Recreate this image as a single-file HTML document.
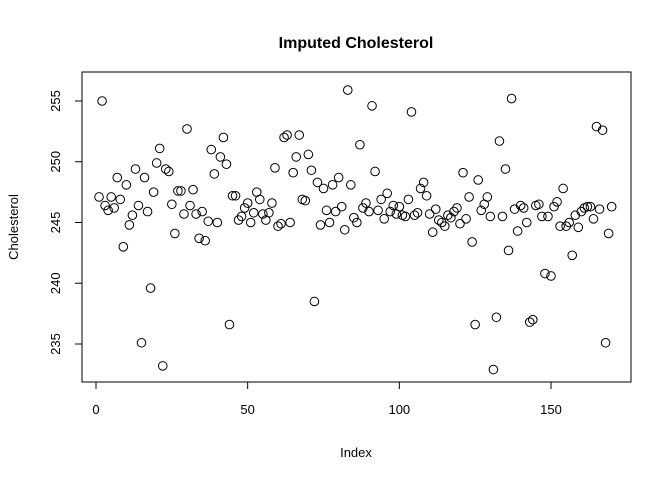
<!DOCTYPE html>
<html><head><meta charset="utf-8"><style>
body{margin:0;background:#fff}
svg text{font-family:"Liberation Sans",Arial,sans-serif}
</style></head><body>
<svg id="chart" width="672" height="480">
<text x="356" y="48" text-anchor="middle" font-size="16" font-weight="bold">Imputed Cholesterol</text>
<rect x="82" y="72" width="549" height="310" fill="none" stroke="#000"/>
<text x="356" y="457" text-anchor="middle" font-size="13">Index</text>
<text transform="translate(18,227) rotate(-90)" text-anchor="middle" font-size="13">Cholesterol</text>
<g id="axes"></g>
<g id="points"></g>
</svg>
<script>
const xTicks=[0,50,100,150];
const yTicks=[235,240,245,250,255];
const values=[247.1,255.0,246.4,246.0,247.1,246.2,248.7,246.9,243.0,248.1,244.8,245.6,249.4,246.4,235.1,248.7,245.9,239.6,247.5,249.9,
251.1,233.2,249.4,249.2,246.5,244.1,247.6,247.6,245.7,252.7,246.4,247.7,245.7,243.7,245.9,243.5,245.1,251.0,249.0,245.0,
250.4,252.0,249.8,236.6,247.2,247.2,245.2,245.5,246.2,246.6,245.0,245.8,247.5,246.9,245.7,245.2,245.8,246.6,249.5,244.7,
244.9,252.0,252.2,245.0,249.1,250.4,252.2,246.9,246.8,250.6,249.3,238.5,248.3,244.8,247.8,246.0,245.0,248.1,245.9,248.7,
246.3,244.4,255.9,248.1,245.4,245.0,251.4,246.2,246.6,245.9,254.6,249.2,246.0,246.9,245.3,247.4,245.9,246.4,245.7,246.3,
245.6,245.5,246.9,254.1,245.6,245.8,247.8,248.3,247.2,245.7,244.2,246.1,245.2,245.0,244.7,245.6,245.4,245.9,246.2,244.9,
249.1,245.3,247.1,243.4,236.6,248.5,246.0,246.5,247.1,245.5,232.9,237.2,251.7,245.5,249.4,242.7,255.2,246.1,244.3,246.4,
246.2,245.0,236.8,237.0,246.4,246.5,245.5,240.8,245.5,240.6,246.3,246.7,244.7,247.8,244.7,245.0,242.3,245.6,244.6,245.9,
246.2,246.3,246.3,245.3,252.9,246.1,252.6,235.1,244.1,246.3];
const NS='http://www.w3.org/2000/svg';
function xs(i){return 96+(i-0)*(455/150);}
function ys(v){return 344-(v-235)*12.15;}
const ax=document.getElementById('axes');
function mk(t,a){const e=document.createElementNS(NS,t);for(const k in a)e.setAttribute(k,a[k]);return e;}
const xl=mk('line',{x1:xs(xTicks[0]),x2:xs(xTicks[xTicks.length-1]),y1:382,y2:382,stroke:'#000'});


ax.appendChild(xl);
xTicks.forEach(t=>{
 const l=mk('line',{x1:xs(t),x2:xs(t),y1:382,y2:389,stroke:'#000'});
 
 
 ax.appendChild(l);
 const tx=mk('text',{x:xs(t),y:414,'text-anchor':'middle','font-size':13});
 
 
 tx.textContent=t;ax.appendChild(tx);
});
const yl=mk('line',{x1:82,x2:82,y1:ys(yTicks[0]),y2:ys(yTicks[yTicks.length-1]),stroke:'#000'});


ax.appendChild(yl);
yTicks.forEach(t=>{
 const l=mk('line',{x1:75,x2:82,y1:ys(t),y2:ys(t),stroke:'#000'});
 
 
 ax.appendChild(l);
 const tx=mk('text',{transform:`translate(60,${ys(t)}) rotate(-90)`,'text-anchor':'middle','font-size':13});
 
 
 tx.textContent=t;ax.appendChild(tx);
});
const pg=document.getElementById('points');
values.forEach((v,i)=>{
 const c=mk('circle',{cx:xs(i+1),cy:ys(v),r:4.3,fill:'none',stroke:'#000','stroke-width':1});
 
 
 pg.appendChild(c);
});
</script>
</body></html>
